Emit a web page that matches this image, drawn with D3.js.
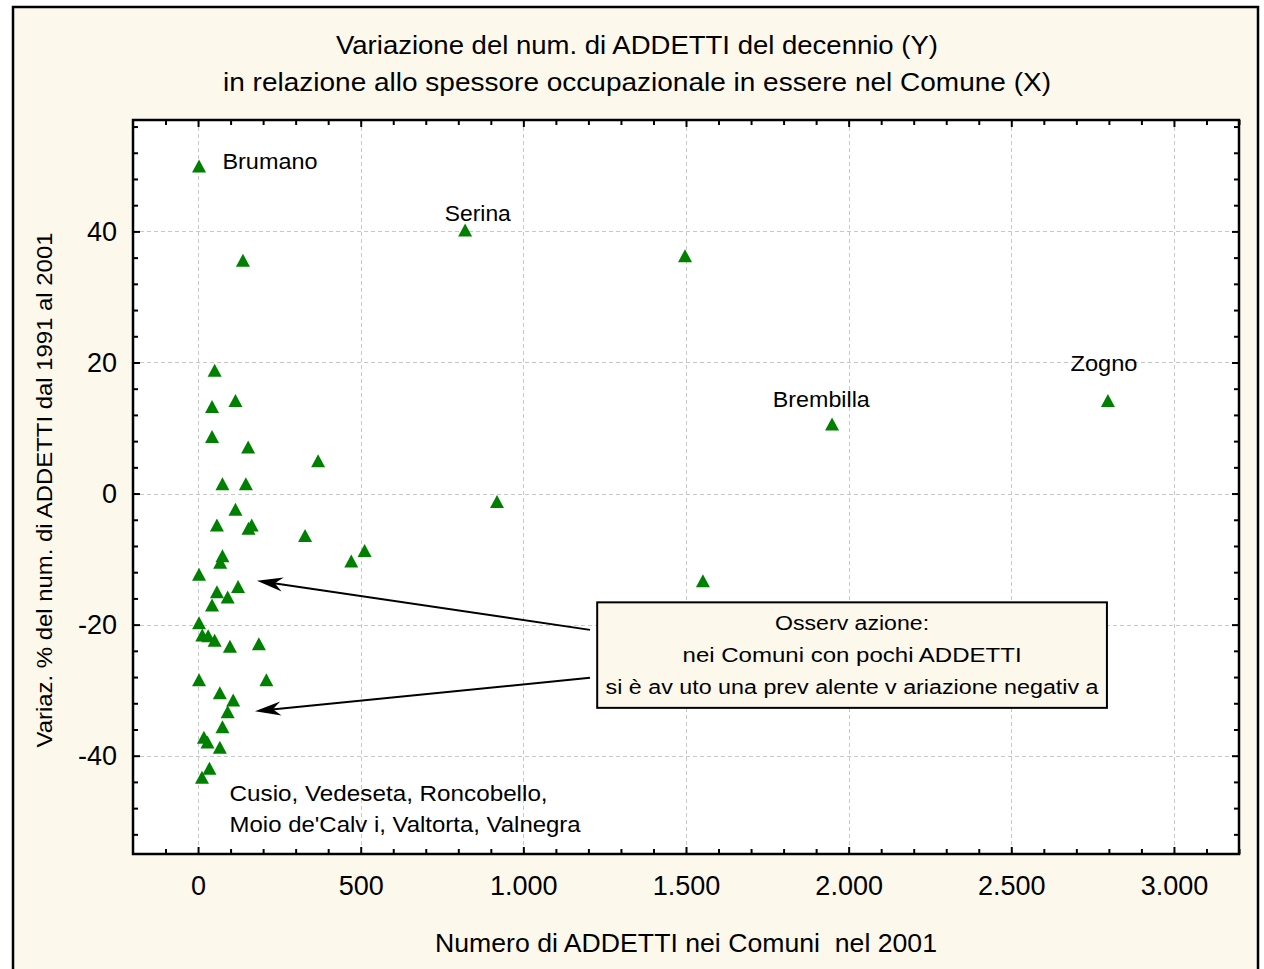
<!DOCTYPE html>
<html>
<head>
<meta charset="utf-8">
<script src="https://cdn.jsdelivr.net/npm/d3@7"></script>
<style>
  html, body { margin: 0; padding: 0; background: #ffffff; }
  svg { display: block; font-family: "Liberation Sans", Arial, sans-serif; }
  text { white-space: pre; }
</style>
</head>
<body>
<svg id="chart" width="1264" height="969"></svg>
<script>
// ---- data ----
const addetti = [3, 138, 821, 1497, 2797, 1949, 919, 1552,
  51, 115, 43, 43, 154, 75, 147, 115, 58, 155, 165, 75, 68, 3, 58, 123, 91, 43, 3, 13, 31, 51, 98, 187,
  3, 210, 67, 108, 91, 75, 18, 29, 67, 35, 12, 369, 329, 512, 471];
const variazione = [50.0, 35.6, 40.2, 36.3, 14.2, 10.6, -1.2, -13.3,
  18.8, 14.2, 13.3, 8.7, 7.1, 1.5, 1.5, -2.4, -4.8, -5.3, -4.8, -9.5, -10.5, -12.3, -15.0, -14.2, -15.8, -17.0, -19.7, -21.6, -21.7, -22.4, -23.3, -22.9,
  -28.4, -28.4, -30.4, -31.5, -33.3, -35.6, -37.2, -37.9, -38.7, -41.9, -43.3, 5.0, -6.4, -8.7, -10.3];

const xTicks = [0, 500, 1000, 1500, 2000, 2500, 3000];
const yTicks = [-40, -20, 0, 20, 40];

const pointLabels = ["Brumano", "Serina", "Brembilla", "Zogno"];
const pointLabelX = [75, 860, 1916, 2785];
const pointLabelY = [50.7, 42.8, 14.4, 19.8];
const pointLabelAnchor = ["start", "middle", "middle", "middle"];

const groupLabel = ["Cusio, Vedeseta, Roncobello,", "Moio de'Calv i, Valtorta, Valnegra"];
const groupLabelX = 97;
const groupLabelY = [-45.8, -50.5];

const noteLines = ["Osserv azione:", "nei Comuni con pochi ADDETTI", "si è av uto una prev alente v ariazione negativ a"];
const noteBox = {x0: 1227, x1: 2794, y0: -16.6, y1: -32.7};
const arrowTail = [[1205, -20.8], [1205, -28.1]];
const arrowTip = [[181, -13.3], [175, -33.2]];

const titleLines = ["Variazione del num. di ADDETTI del decennio (Y)", "in relazione allo spessore occupazionale in essere nel Comune (X)"];
const xTitle = "Numero di ADDETTI nei Comuni  nel 2001";
const yTitle = "Variaz. % del num. di ADDETTI dal 1991 al 2001";

(function () {
const svg = d3.select("#chart");
const pL = 133, pR = 1239, pT = 120, pB = 854;

const x = d3.scaleLinear().domain([-200, 3200]).range([pL, pR]);
const y = d3.scaleLinear().domain([-55, 57]).range([pB, pT]);
const itLocale = d3.formatLocale({decimal: ",", thousands: ".", grouping: [3], currency: ["", "€"], minus: "-"});
const fmtX = itLocale.format(",d");
const fmtY = itLocale.format("d");

// stretch text horizontally to a target width
function fitWidth(sel, widths) {
  sel.each(function (d, i) {
    const w = typeof widths === "function" ? widths(d, i) : widths;
    if (w) d3.select(this).attr("textLength", w).attr("lengthAdjust", "spacingAndGlyphs");
  });
}

// outer frame
svg.append("rect").attr("x", 13).attr("y", 7).attr("width", 1245).attr("height", 980)
  .attr("fill", "#FDF8EC").attr("stroke", "#000").attr("stroke-width", 2.5);

// plot area
svg.append("rect").attr("x", pL).attr("y", pT).attr("width", pR - pL).attr("height", pB - pT)
  .attr("fill", "#ffffff");

// gridlines
const grid = svg.append("g").attr("stroke", "#c8c8c8").attr("stroke-width", 1).attr("stroke-dasharray", "4,3");
grid.selectAll("line.gx").data(xTicks).join("line")
  .attr("x1", d => Math.round(x(d)) + 0.5).attr("x2", d => Math.round(x(d)) + 0.5)
  .attr("y1", pT).attr("y2", pB);
grid.selectAll("line.gy").data(yTicks).join("line")
  .attr("y1", d => Math.round(y(d)) + 0.5).attr("y2", d => Math.round(y(d)) + 0.5)
  .attr("x1", pL).attr("x2", pR);

const xMinor = d3.range(-100, 3201, 100).filter(v => v % 500 !== 0);
const yMinor = d3.range(-52, 57, 4).filter(v => v % 20 !== 0);

function addAxis(axisGen, transform) {
  const g = svg.append("g").attr("transform", transform).call(axisGen);
  g.select(".domain").remove();
  g.selectAll("line").attr("stroke", "#000").attr("stroke-width", 2);
  return g;
}
addAxis(d3.axisBottom(x).tickValues(xMinor).tickSize(-5).tickFormat(""), `translate(0,${pB})`);
const gxb = addAxis(d3.axisBottom(x).tickValues(xTicks).tickSize(-7).tickPadding(22).tickFormat(fmtX), `translate(0,${pB})`);
gxb.selectAll("text").attr("font-size", 27).attr("fill", "#000").attr("font-family", "Liberation Sans, Arial, sans-serif");
addAxis(d3.axisTop(x).tickValues(xMinor).tickSize(-5).tickFormat(""), `translate(0,${pT})`);
addAxis(d3.axisTop(x).tickValues(xTicks).tickSize(-7).tickFormat(""), `translate(0,${pT})`);
addAxis(d3.axisLeft(y).tickValues(yMinor).tickSize(-5).tickFormat(""), `translate(${pL},0)`);
const gyl = addAxis(d3.axisLeft(y).tickValues(yTicks).tickSize(-7).tickPadding(16).tickFormat(fmtY), `translate(${pL},0)`);
gyl.selectAll("text").attr("font-size", 27).attr("fill", "#000").attr("font-family", "Liberation Sans, Arial, sans-serif");
addAxis(d3.axisRight(y).tickValues(yMinor).tickSize(-5).tickFormat(""), `translate(${pR},0)`);
addAxis(d3.axisRight(y).tickValues(yTicks).tickSize(-7).tickFormat(""), `translate(${pR},0)`);

svg.append("rect").attr("x", pL).attr("y", pT).attr("width", pR - pL).attr("height", pB - pT)
  .attr("fill", "none").attr("stroke", "#000").attr("stroke-width", 2.5);

// points
const tw = 14, th = 13;
const tri = `M0,${-th/2}L${tw/2},${th/2}L${-tw/2},${th/2}Z`;
const pts = addetti.map((v, i) => [v, variazione[i]]);
svg.append("g").selectAll("path").data(pts).join("path")
  .attr("d", tri)
  .attr("transform", d => `translate(${x(d[0])},${y(d[1])})`)
  .attr("fill", "#008000");

const labelW = [95, 66, 97, 67];
svg.append("g").selectAll("text").data(pointLabels).join("text")
  .attr("x", (d, i) => x(pointLabelX[i])).attr("y", (d, i) => y(pointLabelY[i]))
  .attr("text-anchor", (d, i) => pointLabelAnchor[i])
  .attr("dominant-baseline", "central")
  .attr("font-size", 22).attr("fill", "#000").text(d => d)
  .call(fitWidth, (d, i) => labelW[i]);

const groupW = [318, 351];
svg.append("g").selectAll("text").data(groupLabel).join("text")
  .attr("x", x(groupLabelX)).attr("y", (d, i) => y(groupLabelY[i]))
  .attr("dominant-baseline", "central")
  .attr("font-size", 22).attr("fill", "#000").text(d => d)
  .call(fitWidth, (d, i) => groupW[i]);

// arrows
const arrows = svg.append("g");
arrowTail.forEach((t, i) => {
  const x1 = x(t[0]), y1 = y(t[1]);
  const x2 = x(arrowTip[i][0]), y2 = y(arrowTip[i][1]);
  const ang = Math.atan2(y2 - y1, x2 - x1);
  const L = 26, Wd = 7, notch = 18;
  arrows.append("line").attr("x1", x1).attr("y1", y1)
    .attr("x2", x2 - Math.cos(ang) * 12).attr("y2", y2 - Math.sin(ang) * 12)
    .attr("stroke", "#000").attr("stroke-width", 2);
  arrows.append("path")
    .attr("d", `M0,0L${-L},${-Wd}L${-notch},0L${-L},${Wd}Z`)
    .attr("transform", `translate(${x2},${y2}) rotate(${ang * 180 / Math.PI})`)
    .attr("fill", "#000");
});

// annotation box
const bx = x(noteBox.x0), by = y(noteBox.y0);
const bw = x(noteBox.x1) - bx, bh = y(noteBox.y1) - by;
svg.append("rect").attr("x", bx).attr("y", by).attr("width", bw).attr("height", bh)
  .attr("fill", "#FDF8EC").attr("stroke", "#000").attr("stroke-width", 2);
const noteW = [154, 339, 493];
svg.append("g").selectAll("text").data(noteLines).join("text")
  .attr("x", bx + bw / 2).attr("y", (d, i) => by + bh / 2 + (i - 1) * 32)
  .attr("text-anchor", "middle").attr("dominant-baseline", "central")
  .attr("font-size", 20).attr("fill", "#000").text(d => d)
  .call(fitWidth, (d, i) => noteW[i]);

const titleW = [602, 828];
svg.append("g").selectAll("text").data(titleLines).join("text")
  .attr("x", 637).attr("y", (d, i) => 45 + i * 37)
  .attr("text-anchor", "middle").attr("dominant-baseline", "central")
  .attr("font-size", 25).attr("fill", "#000").text(d => d)
  .call(fitWidth, (d, i) => titleW[i]);

svg.append("text").attr("x", 686).attr("y", 943)
  .attr("text-anchor", "middle").attr("dominant-baseline", "central")
  .attr("font-size", 25).attr("fill", "#000").text(xTitle)
  .call(fitWidth, 502);

svg.append("text").attr("transform", `translate(44,490) rotate(-90)`)
  .attr("text-anchor", "middle").attr("dominant-baseline", "central")
  .attr("font-size", 22).attr("fill", "#000").text(yTitle)
  .call(fitWidth, 515);
})();
</script>
</body>
</html>
